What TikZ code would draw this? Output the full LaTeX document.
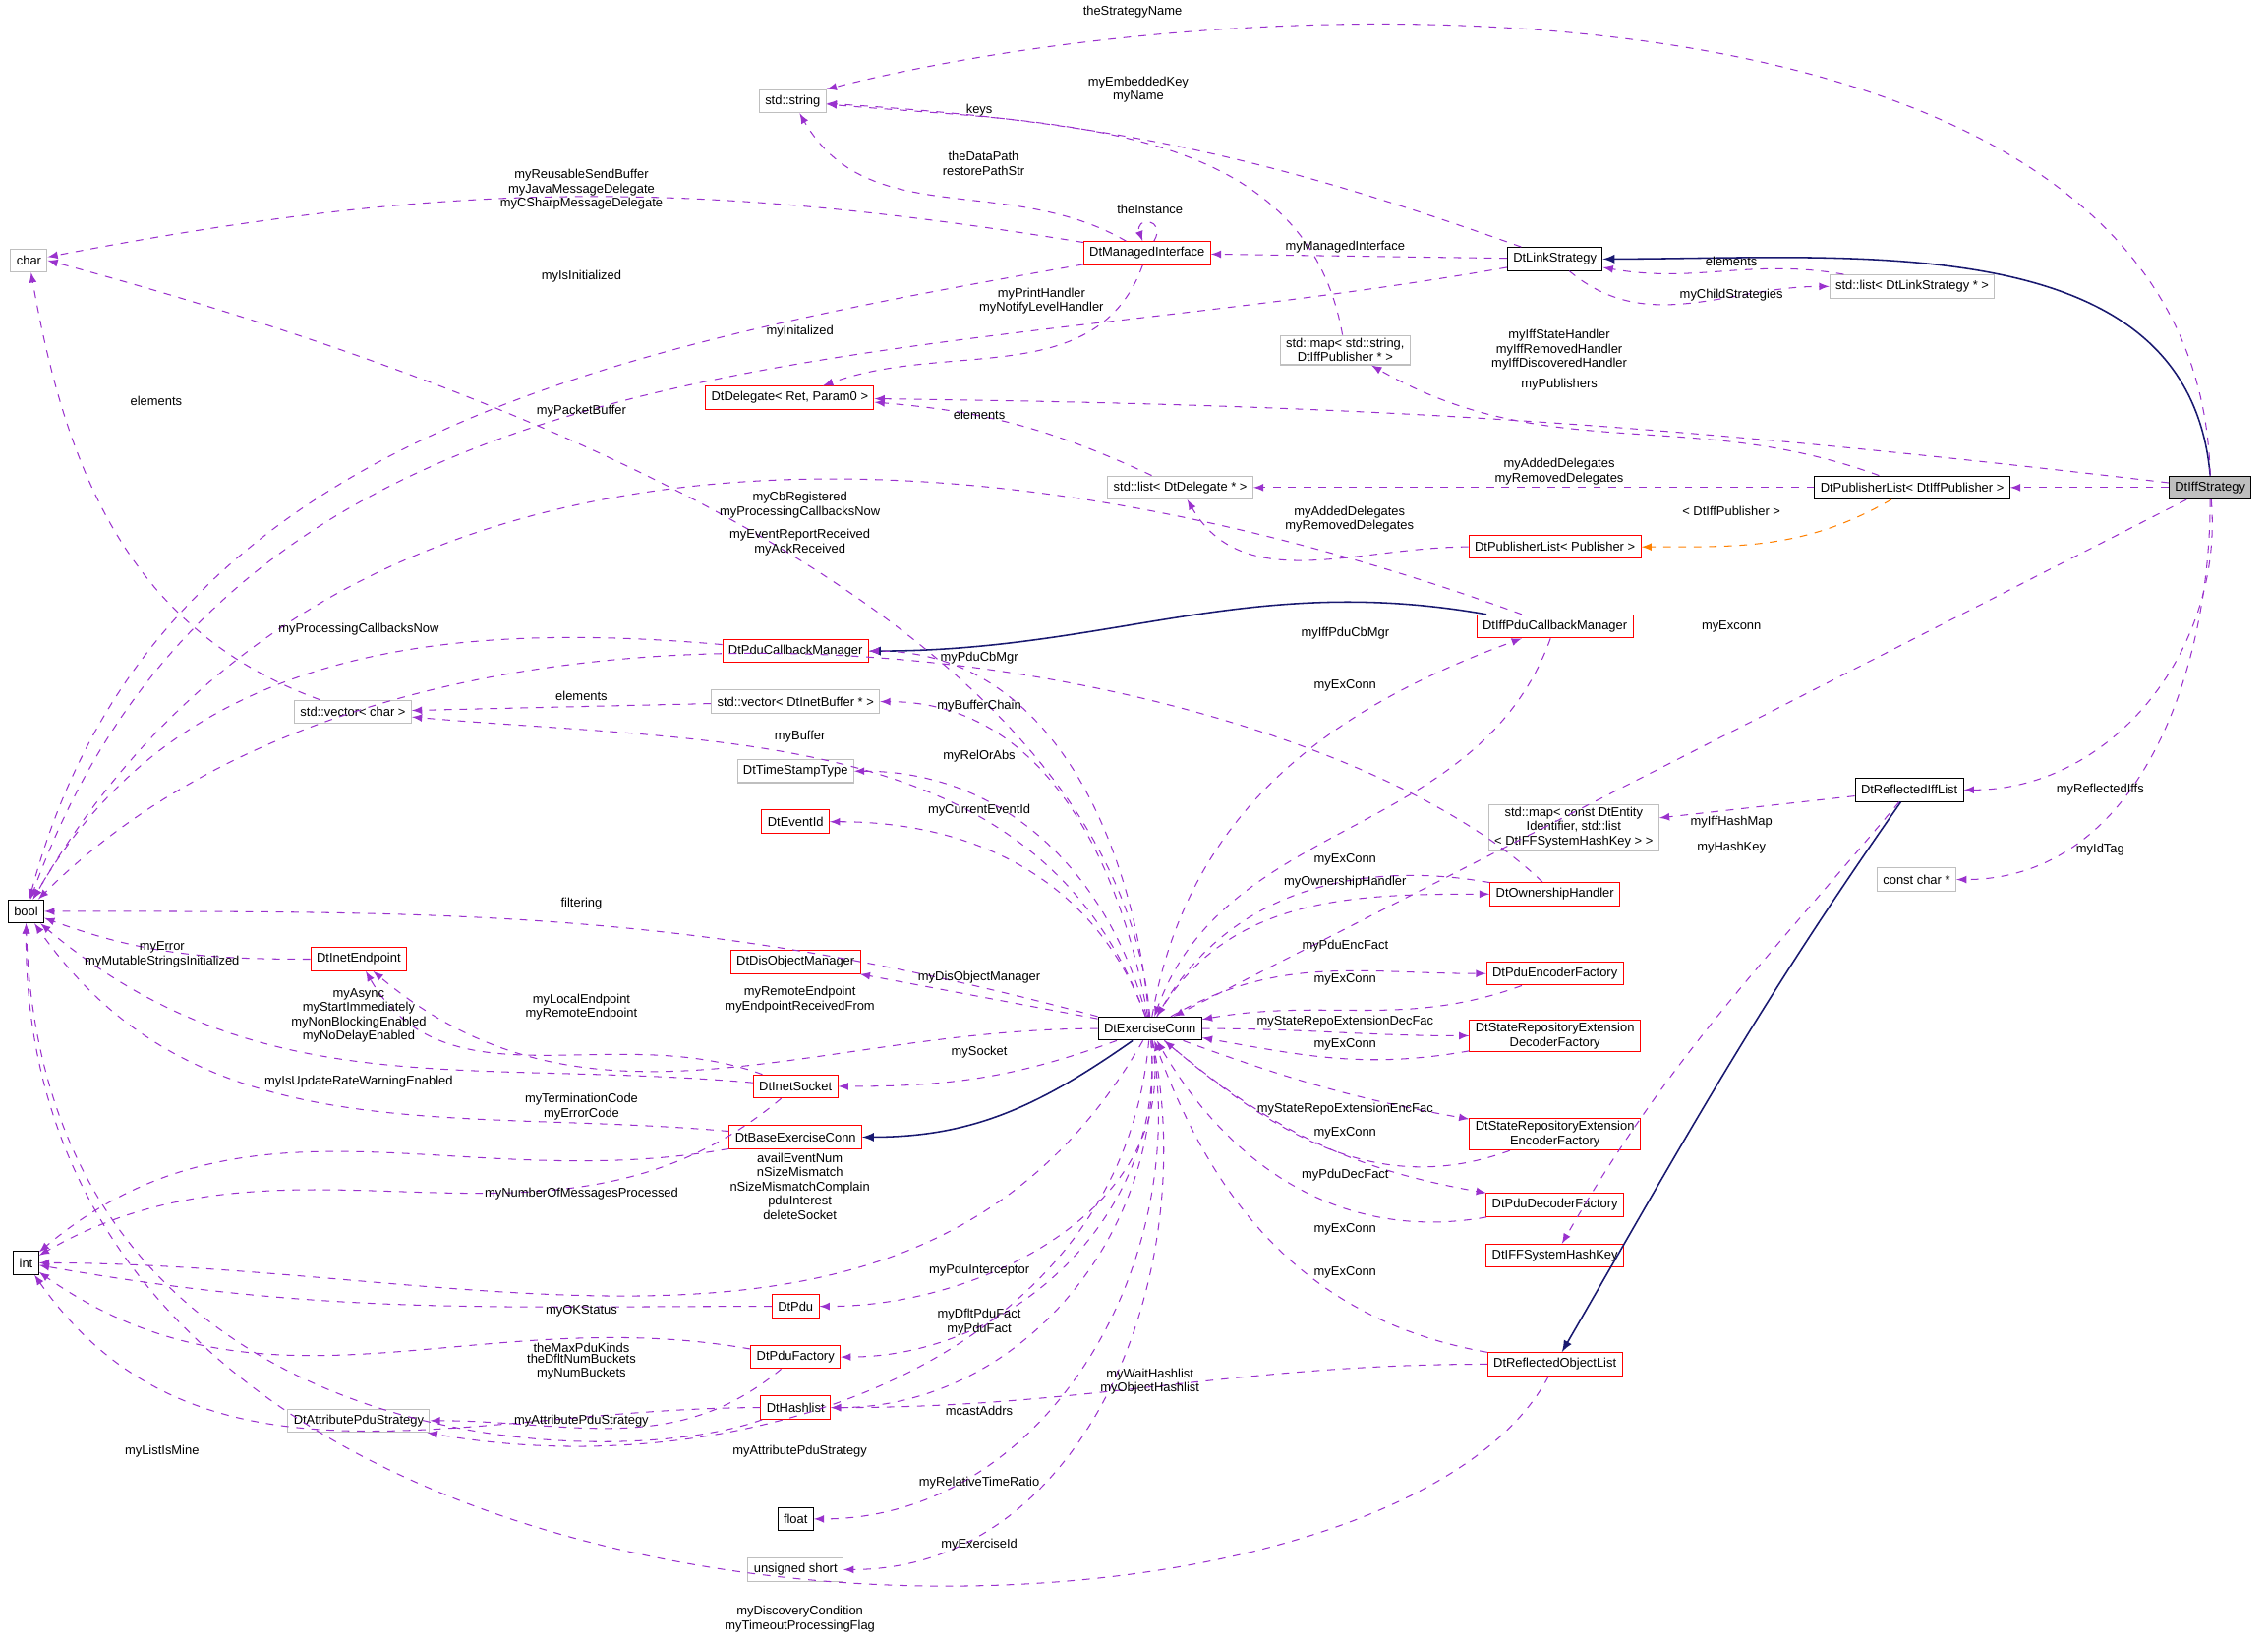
\documentclass[tikz,border=0pt]{standalone}
\usepackage{fontspec}
\setmainfont{Liberation Sans}
\usepackage{tikz}
\usetikzlibrary{arrows, positioning}

\definecolor{orchid}{HTML}{9A32CD}
\definecolor{navy}{HTML}{191970}
\definecolor{grayline}{HTML}{BFBFBF}

\begin{document}
\begin{tikzpicture}[x=0.02cm, y=0.02cm,
        every node/.style={font=\fontsize{5}{5.6}\selectfont, align=center},
        cls/.style={draw, rectangle, inner xsep=0.08cm, inner ysep=0.04cm, minimum height=0.32cm, line width=0.4pt},
        known/.style={cls, draw=black},
        ext/.style={cls, draw=grayline},
        red/.style={cls, draw=red},
        self/.style={cls, draw=black, fill=grayline},
        dep/.style={dashed, orchid, -latex, line width=0.4pt},
        inh/.style={navy, -latex, line width=0.6pt},
        tpl/.style={dashed, orange, -latex, line width=0.4pt},
        lbl/.style={inner sep=0pt}
    ]
        \useasboundingbox (0,0) rectangle (1568,-1134);

        % Classes
        \node[self] (iffStrategy) at (1528,-337) {DtIffStrategy};
        \node[ext] (stdString) at (548,-70) {std::string};
        \node[ext] (charT) at (20,-180) {char};
        \node[red] (managedIface) at (793,-175) {DtManagedInterface};
        \node[known] (linkStrategy) at (1075,-179) {DtLinkStrategy};
        \node[ext] (listLink) at (1322,-198) {std::list< DtLinkStrategy * >};
        \node[ext] (mapPub) at (930,-242) {std::map< std::string,\\DtIffPublisher * >};
        \node[red] (delegate) at (546,-275) {DtDelegate< Ret, Param0 >};
        \node[ext] (listDelegate) at (816,-337) {std::list< DtDelegate * >};
        \node[known] (pubListIff) at (1322,-337) {DtPublisherList< DtIffPublisher >};
        \node[red] (pubList) at (1075,-378) {DtPublisherList< Publisher >};
        \node[red] (iffPduCbMgr) at (1075,-433) {DtIffPduCallbackManager};
        \node[red] (pduCbMgr) at (550,-450) {DtPduCallbackManager};
        \node[ext] (vecChar) at (244,-492) {std::vector< char >};
        \node[ext] (vecBuf) at (550,-485) {std::vector< DtInetBuffer * >};
        \node[ext] (timeStamp) at (550,-533) {DtTimeStampType};
        \node[red] (eventId) at (550,-568) {DtEventId};
        \node[known] (boolT) at (18,-630) {bool};
        \node[ext] (mapHash) at (1088,-572) {std::map< const DtEntity\\Identifier, std::list\\< DtIFFSystemHashKey > >};
        \node[known] (reflIffList) at (1320,-546) {DtReflectedIffList};
        \node[ext] (constChar) at (1325,-608) {const char *};
        \node[red] (ownHandler) at (1075,-618) {DtOwnershipHandler};
        \node[red] (inetEndpoint) at (248,-663) {DtInetEndpoint};
        \node[red] (disObjMgr) at (550,-665) {DtDisObjectManager};
        \node[red] (pduEncFac) at (1075,-673) {DtPduEncoderFactory};
        \node[known] (exConn) at (795,-711) {DtExerciseConn};
        \node[red] (sreDec) at (1075,-716) {DtStateRepositoryExtension\\DecoderFactory};
        \node[red] (inetSocket) at (550,-751) {DtInetSocket};
        \node[red] (baseExConn) at (550,-786) {DtBaseExerciseConn};
        \node[red] (sreEnc) at (1075,-784) {DtStateRepositoryExtension\\EncoderFactory};
        \node[red] (pduDecFac) at (1075,-833) {DtPduDecoderFactory};
        \node[known] (intT) at (18,-873) {int};
        \node[red] (hashKey) at (1075,-868) {DtIFFSystemHashKey};
        \node[red] (pdu) at (550,-903) {DtPdu};
        \node[red] (pduFac) at (550,-938) {DtPduFactory};
        \node[red] (reflObjList) at (1075,-943) {DtReflectedObjectList};
        \node[red] (hashlist) at (550,-973) {DtHashlist};
        \node[ext] (attrPdu) at (248,-982) {DtAttributePduStrategy};
        \node[known] (floatT) at (550,-1050) {float};
        \node[ext] (ushort) at (550,-1085) {unsigned short};

        % Inheritance
        \draw[inh] (iffStrategy.north) to[out=95,in=0] (linkStrategy.east);
        \draw[inh] (iffPduCbMgr) to[out=170,in=0] (pduCbMgr);
        \draw[inh] (exConn) to[out=-145,in=0] (baseExConn);
        \draw[inh] (reflIffList) to[out=-125,in=60] (reflObjList);
        \draw[tpl] (pubListIff) to[out=-150,in=0] (pubList);

        % Members, top part
        \draw[dep] (iffStrategy.north) .. controls (1520,20) and (900,20) .. (stdString.north east);
        \draw[dep] (linkStrategy) to[bend right=8] (stdString);
        \draw[dep] (mapPub) to[out=100,in=-5] (stdString);
        \draw[dep] (managedIface) to[out=150,in=-60] (stdString);
        \draw[dep] (managedIface) to[bend right=10] (charT);
        \draw[dep] (managedIface) to[out=60,in=110,looseness=6] (managedIface);
        \draw[dep] (managedIface) to[out=190,in=75] (boolT);
        \draw[dep] (managedIface) to[out=-110,in=20] (delegate);
        \draw[dep] (linkStrategy) -- (managedIface);
        \draw[dep] (linkStrategy) to[out=190,in=70] (boolT);
        \draw[dep] (linkStrategy) to[out=-40,in=180] (listLink);
        \draw[dep] (listLink) to[out=170,in=-10] (linkStrategy);
        \draw[dep] (iffStrategy) to[bend right=3] (delegate);
        \draw[dep] (pubListIff) to[out=160,in=-30] (mapPub);
        \draw[dep] (pubListIff) -- (listDelegate);
        \draw[dep] (iffStrategy) -- (pubListIff);
        \draw[dep] (listDelegate) to[bend right=10] (delegate);
        \draw[dep] (pubList) to[out=180,in=-60] (listDelegate);
        \draw[dep] (vecChar) to[out=160,in=-80] (charT);
        \draw[dep] (exConn.north) .. controls (770,-420) and (330,-260) .. (charT.east);
        \draw[dep] (iffPduCbMgr) to[out=160,in=60] (boolT);
        \draw[dep] (ownHandler) .. controls (900,-450) and (300,-350) .. (boolT);
        \draw[dep] (pduCbMgr) to[out=175,in=60] (boolT);
        \draw[dep] (exConn) to[out=95,in=0] (pduCbMgr);
        \draw[dep] (exConn) to[out=80,in=200] (iffPduCbMgr);
        \draw[dep] (iffPduCbMgr) to[out=-110,in=70] (exConn);
        \draw[dep] (iffStrategy) -- (exConn);
        \draw[dep] (vecBuf) -- (vecChar);
        \draw[dep] (exConn) to[out=100,in=0] (vecBuf);
        \draw[dep] (exConn) to[out=110,in=-5] (vecChar);
        \draw[dep] (exConn) to[out=105,in=0] (timeStamp);
        \draw[dep] (exConn) to[out=110,in=0] (eventId);
        \draw[dep] (exConn.north west) to[out=165,in=0] (boolT);
        \draw[dep] (reflIffList) -- (mapHash);
        \draw[dep] (reflIffList) to[out=-130,in=60] (hashKey);
        \draw[dep] (iffStrategy) to[out=-85,in=0] (reflIffList);
        \draw[dep] (iffStrategy) to[out=-90,in=0] (constChar);
        \draw[dep] (ownHandler) to[out=170,in=60] (exConn);
        \draw[dep] (exConn) to[out=60,in=180] (ownHandler);

        % Members, lower part
        \draw[dep] (inetEndpoint) to[out=180,in=-20] (boolT);
        \draw[dep] (exConn) -- (disObjMgr);
        \draw[dep] (exConn) to[out=180,in=-40] (inetEndpoint);
        \draw[dep] (inetSocket) to[out=160,in=-60] (inetEndpoint);
        \draw[dep] (inetSocket) to[out=175,in=-40] (boolT);
        \draw[dep] (baseExConn) to[out=175,in=-55] (boolT);
        \draw[dep] (exConn) to[out=30,in=180] (pduEncFac);
        \draw[dep] (pduEncFac) to[out=200,in=10] (exConn);
        \draw[dep] (exConn) to[out=0,in=180] (sreDec);
        \draw[dep] (sreDec) to[out=190,in=-10] (exConn);
        \draw[dep] (exConn) to[out=-20,in=170] (sreEnc);
        \draw[dep] (sreEnc) to[out=200,in=-40] (exConn);
        \draw[dep] (exConn) to[out=-40,in=170] (pduDecFac);
        \draw[dep] (pduDecFac) to[out=190,in=-60] (exConn);
        \draw[dep] (reflObjList) to[out=170,in=-70] (exConn);
        \draw[dep] (exConn) to[out=-160,in=0] (inetSocket);
        \draw[dep] (baseExConn) to[out=190,in=40] (intT);
        \draw[dep] (inetSocket) to[out=-140,in=30] (intT);
        \draw[dep] (exConn) to[out=-120,in=0] (intT);
        \draw[dep] (pdu) to[out=180,in=-10] (intT);
        \draw[dep] (exConn) to[out=-80,in=0] (pdu);
        \draw[dep] (pduFac) to[out=170,in=-35] (intT);
        \draw[dep] (exConn) to[out=-85,in=0] (pduFac);
        \draw[dep] (hashlist) to[out=180,in=-55] (intT);
        \draw[dep] (pduFac) to[out=-140,in=0] (attrPdu);
        \draw[dep] (exConn) to[out=-95,in=-10] (attrPdu);
        \draw[dep] (hashlist) .. controls (420,-1020) and (30,-1010) .. (boolT.south);
        \draw[dep] (exConn) to[out=-85,in=0] (hashlist);
        \draw[dep] (reflObjList) to[out=180,in=0] (hashlist);
        \draw[dep] (reflObjList) .. controls (950,-1180) and (15,-1180) .. (boolT.south);
        \draw[dep] (exConn) to[out=-80,in=0] (floatT);
        \draw[dep] (exConn) to[out=-78,in=0] (ushort);

        % Labels
        \node[lbl] (l1) at (783,-8) {theStrategyName};
        \node[lbl] (l2) at (787,-62) {myEmbeddedKey\\myName};
        \node[lbl] (l3) at (677,-76) {keys};
        \node[lbl] (l4) at (680,-113) {theDataPath\\restorePathStr};
        \node[lbl] (l5) at (795,-145) {theInstance};
        \node[lbl] (l6) at (402,-131) {myReusableSendBuffer\\myJavaMessageDelegate\\myCSharpMessageDelegate};
        \node[lbl] (l7) at (930,-171) {myManagedInterface};
        \node[lbl] (l8) at (1197,-181) {elements};
        \node[lbl] (l9) at (1197,-204) {myChildStrategies};
        \node[lbl] (l10) at (402,-191) {myIsInitialized};
        \node[lbl] (l11) at (553,-229) {myInitalized};
        \node[lbl] (l12) at (108,-277) {elements};
        \node[lbl] (l13) at (1078,-242) {myIffStateHandler\\myIffRemovedHandler\\myIffDiscoveredHandler};
        \node[lbl] (l14) at (1078,-266) {myPublishers};
        \node[lbl] (l15) at (720,-208) {myPrintHandler\\myNotifyLevelHandler};
        \node[lbl] (l16) at (402,-284) {myPacketBuffer};
        \node[lbl] (l17) at (677,-287) {elements};
        \node[lbl] (l18) at (1078,-326) {myAddedDelegates\\myRemovedDelegates};
        \node[lbl] (l19) at (933,-359) {myAddedDelegates\\myRemovedDelegates};
        \node[lbl] (l20) at (1197,-353) {< DtIffPublisher >};
        \node[lbl] (l21) at (553,-349) {myCbRegistered\\myProcessingCallbacksNow};
        \node[lbl] (l22) at (553,-375) {myEventReportReceived\\myAckReceived};
        \node[lbl] (l23) at (248,-435) {myProcessingCallbacksNow};
        \node[lbl] (l24) at (930,-438) {myIffPduCbMgr};
        \node[lbl] (l25) at (1197,-433) {myExconn};
        \node[lbl] (l26) at (930,-474) {myExConn};
        \node[lbl] (l27) at (677,-455) {myPduCbMgr};
        \node[lbl] (l28) at (402,-481) {elements};
        \node[lbl] (l29) at (677,-488) {myBufferChain};
        \node[lbl] (l30) at (553,-509) {myBuffer};
        \node[lbl] (l31) at (677,-523) {myRelOrAbs};
        \node[lbl] (l32) at (677,-560) {myCurrentEventId};
        \node[lbl] (l33) at (1197,-568) {myIffHashMap};
        \node[lbl] (l34) at (1197,-586) {myHashKey};
        \node[lbl] (l35) at (1452,-546) {myReflectedIffs};
        \node[lbl] (l36) at (1452,-587) {myIdTag};
        \node[lbl] (l37) at (930,-594) {myExConn};
        \node[lbl] (l38) at (930,-610) {myOwnershipHandler};
        \node[lbl] (l39) at (402,-625) {filtering};
        \node[lbl] (l40) at (112,-660) {myError\\myMutableStringsInitialized};
        \node[lbl] (l41) at (930,-654) {myPduEncFact};
        \node[lbl] (l42) at (677,-676) {myDisObjectManager};
        \node[lbl] (l43) at (930,-677) {myExConn};
        \node[lbl] (l44) at (553,-691) {myRemoteEndpoint\\myEndpointReceivedFrom};
        \node[lbl] (l45) at (402,-696) {myLocalEndpoint\\myRemoteEndpoint};
        \node[lbl] (l46) at (248,-702) {myAsync\\myStartImmediately\\myNonBlockingEnabled\\myNoDelayEnabled};
        \node[lbl] (l47) at (930,-706) {myStateRepoExtensionDecFac};
        \node[lbl] (l48) at (930,-722) {myExConn};
        \node[lbl] (l49) at (677,-727) {mySocket};
        \node[lbl] (l50) at (248,-748) {myIsUpdateRateWarningEnabled};
        \node[lbl] (l51) at (402,-765) {myTerminationCode\\myErrorCode};
        \node[lbl] (l52) at (930,-767) {myStateRepoExtensionEncFac};
        \node[lbl] (l53) at (930,-783) {myExConn};
        \node[lbl] (l54) at (402,-825) {myNumberOfMessagesProcessed};
        \node[lbl] (l55) at (553,-820) {availEventNum\\nSizeMismatch\\nSizeMismatchComplain\\pduInterest\\deleteSocket};
        \node[lbl] (l56) at (930,-812) {myPduDecFact};
        \node[lbl] (l57) at (930,-850) {myExConn};
        \node[lbl] (l58) at (930,-880) {myExConn};
        \node[lbl] (l59) at (677,-878) {myPduInterceptor};
        \node[lbl] (l60) at (402,-906) {myOKStatus};
        \node[lbl] (l61) at (402,-932) {theMaxPduKinds};
        \node[lbl] (l62) at (677,-914) {myDfltPduFact\\myPduFact};
        \node[lbl] (l63) at (402,-945) {theDfltNumBuckets\\myNumBuckets};
        \node[lbl] (l64) at (677,-975) {mcastAddrs};
        \node[lbl] (l65) at (795,-955) {myWaitHashlist\\myObjectHashlist};
        \node[lbl] (l66) at (402,-982) {myAttributePduStrategy};
        \node[lbl] (l67) at (112,-1003) {myListIsMine};
        \node[lbl] (l68) at (553,-1003) {myAttributePduStrategy};
        \node[lbl] (l69) at (677,-1025) {myRelativeTimeRatio};
        \node[lbl] (l70) at (677,-1068) {myExerciseId};
        \node[lbl] (l71) at (553,-1119) {myDiscoveryCondition\\myTimeoutProcessingFlag};
    \end{tikzpicture}
\end{document}
